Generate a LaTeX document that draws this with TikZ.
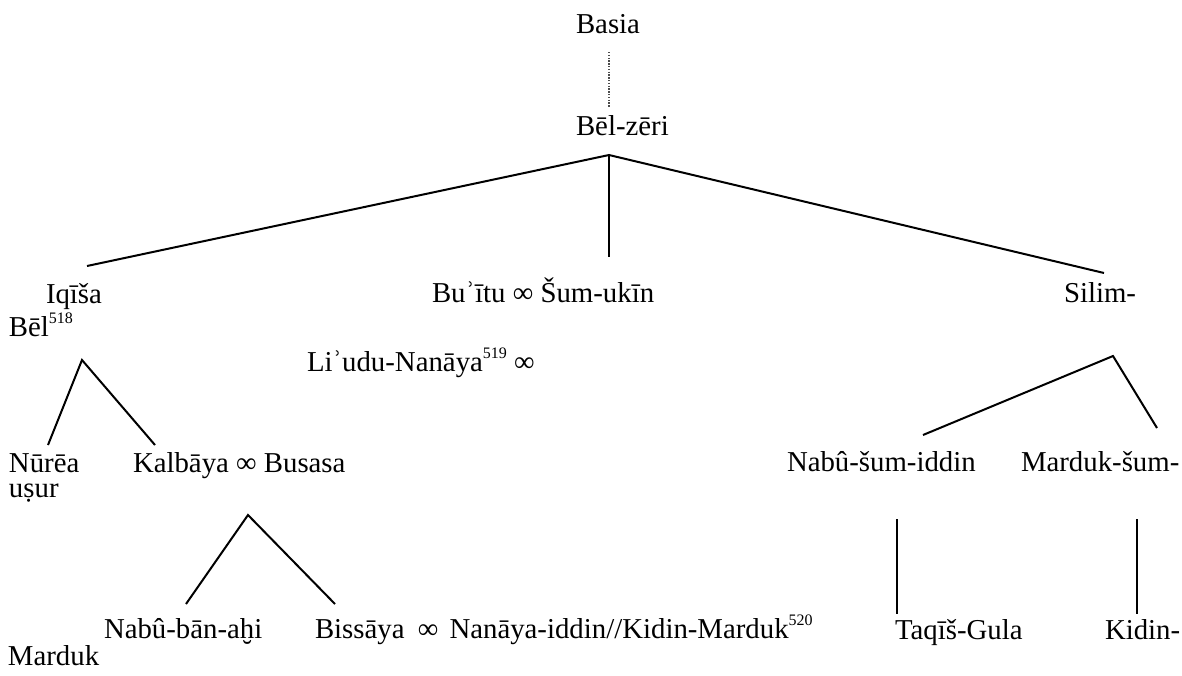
\documentclass[tikz,border=0pt]{standalone}
\usepackage{fontspec}
\setmainfont{Liberation Serif}
\newcommand{\supnum}[1]{\raisebox{13pt}{\fontsize{16}{16}\selectfont #1}}
\begin{document}
\begin{tikzpicture}[x=1pt,y=-1pt,
  pname/.style={inner sep=0pt, outer sep=0pt, anchor=base west, font=\fontsize{28.8}{34}\selectfont},
  link/.style={line width=2pt, black},
  dotlink/.style={line width=1.2pt, dash pattern=on 1.3pt off 1.5pt, black!70}]
\useasboundingbox (0,0) rectangle (1182,675);
% names
\node[pname] (basia) at (576,33) {Basia};
\node[pname] (belzeri) at (576,135) {Bēl-zēri};
\node[pname] (iqisa) at (46,303) {Iqīša};
\node[pname] (bel) at (9,336) {Bēl\supnum{518}};
\node[pname] (buitu) at (432,302) {Buʾītu ∞ Šum-ukīn};
\node[pname] (silim) at (1064,302) {Silim-};
\node[pname] (liudu) at (307,371) {Liʾudu-Nanāya\supnum{519} ∞};
\node[pname] (nurea) at (9,472) {Nūrēa};
\node[pname] (usur) at (9,497) {uṣur};
\node[pname] (kalbaya) at (133,472) {Kalbāya ∞ Busasa};
\node[pname] (nabusum) at (787,471) {Nabû-šum-iddin};
\node[pname] (mardsum) at (1021,471) {Marduk-šum-};
\node[pname] (nabuban) at (104,638) {Nabû-bān-aḫi};
\node[pname] (bissaya) at (315,638) {Bissāya\hspace{6pt} ∞\hspace{4pt} Nanāya-iddin//Kidin-Marduk\supnum{520}};
\node[pname] (taqis) at (895,639) {Taqīš-Gula};
\node[pname] (kidin) at (1105,639) {Kidin-};
\node[pname] (marduk) at (8,665) {Marduk};
% connector points
\coordinate (d1) at (609,52);
\coordinate (d2) at (609,107);
\coordinate (ap1) at (609,155);
\coordinate (e1) at (87,266);
\coordinate (e2) at (609,257);
\coordinate (e3) at (1104,273);
\coordinate (ap2) at (82,360);
\coordinate (f1) at (48,445);
\coordinate (f2) at (155,445);
\coordinate (ap3) at (1113,356);
\coordinate (g1) at (923,435);
\coordinate (g2) at (1157,428);
\coordinate (ap4) at (248,515);
\coordinate (h1) at (186,604);
\coordinate (h2) at (335,604);
\coordinate (v1a) at (897,519);
\coordinate (v1b) at (897,614);
\coordinate (v2a) at (1137,519);
\coordinate (v2b) at (1137,614);
% connectors
\draw[dotlink] (d1) -- (d2);
\draw[link] (e1) -- (ap1) -- (e3);
\draw[link] (ap1) -- (e2);
\draw[link] (f1) -- (ap2) -- (f2);
\draw[link] (g1) -- (ap3) -- (g2);
\draw[link] (h1) -- (ap4) -- (h2);
\draw[link] (v1a) -- (v1b);
\draw[link] (v2a) -- (v2b);
\end{tikzpicture}
\end{document}
